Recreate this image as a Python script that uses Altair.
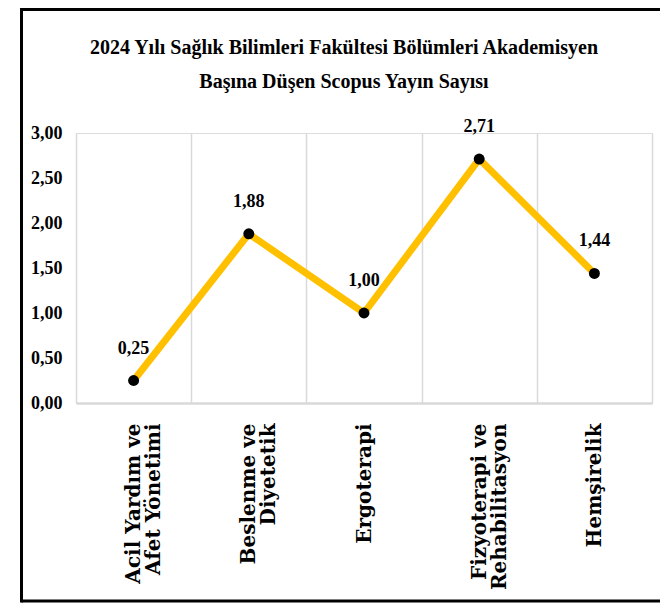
import altair as alt
import pandas as pd

categories = [
    "Acil Yardım ve\nAfet Yönetimi",
    "Beslenme ve\nDiyetetik",
    "Ergoterapi",
    "Fizyoterapi ve\nRehabilitasyon",
    "Hemşirelik",
]
values = [0.25, 1.88, 1.00, 2.71, 1.44]
y_ticks = [0, 0.5, 1.0, 1.5, 2.0, 2.5, 3.0]
title_lines = [
    "2024 Yılı Sağlık Bilimleri Fakültesi Bölümleri Akademisyen",
    "Başına Düşen Scopus Yayın Sayısı",
]

df = pd.DataFrame({"bolum": categories, "deger": values})

W, H = 576, 270
PAD = {"left": 68, "top": 125, "right": 8, "bottom": 200}

x_enc = alt.X(
    "bolum:N",
    sort=None,
    bandPosition=0.5,
    scale=alt.Scale(type="band", paddingInner=0, paddingOuter=0),
    axis=alt.Axis(
        title=None,
        tickBand="extent",
        grid=True,
        gridColor="#d9d9d9",
        gridWidth=1.5,
        domainColor="#d9d9d9",
        domainWidth=2.5,
        ticks=False,
        tickSize=0,
        labelAngle=270,
        labelAlign="right",
        labelBaseline="middle",
        labelPadding=20,
        labelFont="DejaVu Serif",
        labelFontWeight="bold",
        labelFontSize=20,
        labelLineHeight=20,
        labelColor="black",
        labelExpr="isValid(datum.value) ? split(datum.value, '\\n') : ''",
    ),
)
y_enc = alt.Y(
    "deger:Q",
    scale=alt.Scale(domain=[0, 3], nice=False),
    axis=alt.Axis(
        title=None,
        values=y_ticks,
        grid=False,
        domain=False,
        ticks=False,
        tickSize=0,
        labelPadding=14,
        labelFont="Liberation Serif",
        labelFontWeight="bold",
        labelFontSize=18,
        labelColor="black",
        labelExpr="replace(format(datum.value, '.2f'), '.', ',')",
    ),
)

base = alt.Chart(df)
line = base.mark_line(color="#FFC000", strokeWidth=7).encode(x=x_enc, y=y_enc)
points = base.mark_point(filled=True, color="black", size=120, opacity=1).encode(
    x=x_enc, y=y_enc
)
labels = (
    base.transform_calculate(lbl="replace(format(datum.deger, '.2f'), '.', ',')")
    .mark_text(
        dy=-32,
        font="Liberation Serif",
        fontWeight="bold",
        fontSize=18,
        color="black",
    )
    .encode(x=x_enc, y=y_enc, text="lbl:N")
)

one = pd.DataFrame({"a": [0]})
L, T, B, R = -54.5, -123.5, 468, 600
frame_left = alt.Chart(one).mark_rule(color="black", strokeWidth=3).encode(
    x=alt.value(L), y=alt.value(T - 1.5), y2=alt.value(B + 1.5)
)
frame_top = alt.Chart(one).mark_rule(color="black", strokeWidth=3).encode(
    x=alt.value(L), x2=alt.value(R), y=alt.value(T)
)
frame_bottom = alt.Chart(one).mark_rule(color="black", strokeWidth=3).encode(
    x=alt.value(L), x2=alt.value(R), y=alt.value(B)
)

chart = (
    alt.layer(line, points, labels, frame_left, frame_top, frame_bottom)
    .properties(
        width=W,
        height=H,
        padding=PAD,
        autosize=alt.AutoSizeParams(type="none"),
        title=alt.TitleParams(
            text=title_lines,
            font="Liberation Serif",
            fontWeight="bold",
            fontSize=20,
            lineHeight=34,
            color="black",
            anchor="middle",
            dx=-20,
            offset=-85,
        ),
    )
    .configure_view(stroke=None)
    .configure(background="white")
)

chart.save("out.html", embed_options={"renderer": "svg", "actions": False})
